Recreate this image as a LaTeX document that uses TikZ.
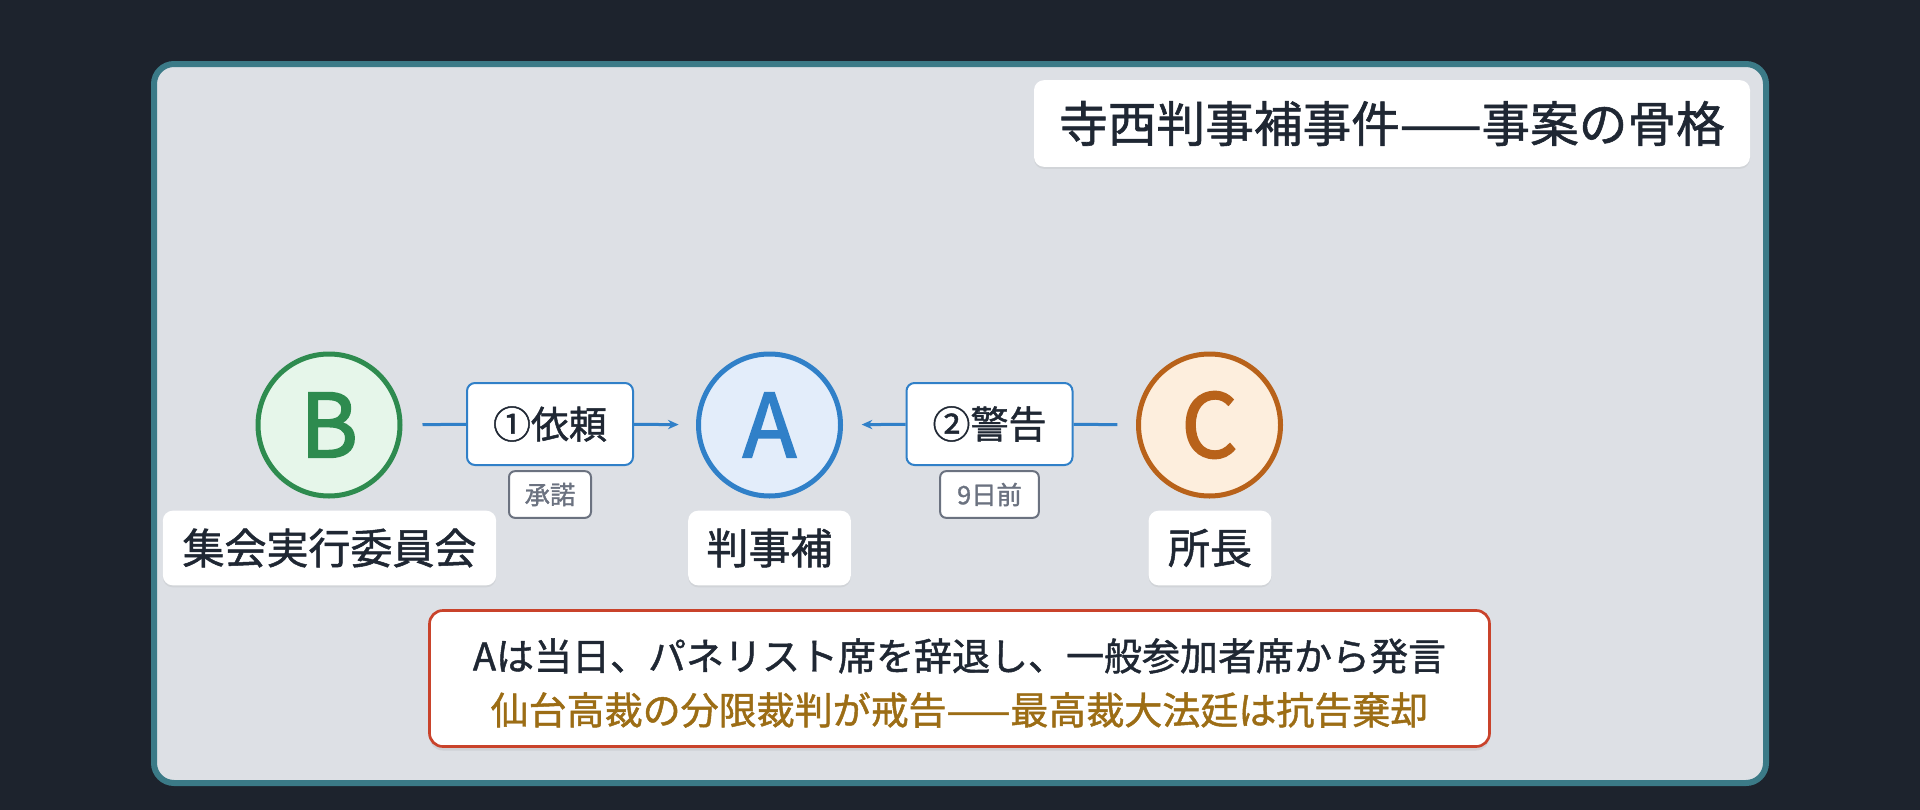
\documentclass[tikz,border=0pt]{standalone}
\usepackage{fontspec}
\usetikzlibrary{arrows.meta,shadows}
\newfontfamily\jp[FakeBold=1.2]{Noto Sans CJK JP}
\newfontfamily\jpl[FakeBold=2.2]{Noto Sans CJK JP}
\definecolor{pagebg}{HTML}{1D232D}
\definecolor{framebd}{HTML}{3B7A87}
\definecolor{framebg}{HTML}{DDE0E5}
\definecolor{ink}{HTML}{1F2733}
\definecolor{gbd}{HTML}{2E8B4F}
\definecolor{gbg}{HTML}{E6F6EA}
\definecolor{bbd}{HTML}{3080C8}
\definecolor{bbg}{HTML}{E3EDFA}
\definecolor{obd}{HTML}{B8621A}
\definecolor{obg}{HTML}{FDEEDD}
\definecolor{greyc}{HTML}{6B7280}
\definecolor{redbd}{HTML}{C9432B}
\definecolor{gold}{HTML}{9C6D15}
\tikzset{
  px/.style={x=0.75pt,y=-0.75pt},
  party/.style={circle,line width=3.75pt,minimum size=106.5pt,inner sep=0pt,font=\jpl\fontsize{66}{66}\selectfont},
  whitebox/.style={rectangle,rounded corners=7.5pt,fill=white,inner sep=0pt,text=ink,
     drop shadow={opacity=0.12,shadow xshift=0pt,shadow yshift=-1.5pt}},
  actbox/.style={rectangle,rounded corners=6pt,fill=white,draw=bbd,line width=1.5pt,inner sep=0pt,
     minimum width=124.5pt,minimum height=61.5pt,text=ink,font=\jp\fontsize{28.5}{30}\selectfont},
  notebox/.style={rectangle,rounded corners=4.5pt,fill=white,draw=greyc,line width=1.5pt,inner sep=0pt,
     minimum height=35pt,text=greyc,font=\jp\fontsize{19}{20}\selectfont},
  conn/.style={draw=bbd,line width=2.25pt},
  tip/.style={-{Stealth[length=8pt,width=7pt]}},
}
\begin{document}
\begin{tikzpicture}[px]
\useasboundingbox (0,0) rectangle (1920,810);
\fill[pagebg] (0,0) rectangle (1920,810);
\draw[fill=framebg,draw=framebd,line width=4.5pt,rounded corners=15pt] (154,64) rectangle (1766,783);
% title
\node[whitebox,minimum width=537pt,minimum height=65pt,font=\jp\fontsize{36.5}{38}\selectfont] (title) at (1392,123.5) {寺西判事補事件——事案の骨格};
% parties
\node[party,draw=gbd,fill=gbg,text=gbd] (B) at (329,425) {B};
\node[party,draw=bbd,fill=bbg,text=bbd] (A) at (769.5,425) {A};
\node[party,draw=obd,fill=obg,text=obd] (C) at (1209.5,425) {C};
% labels
\node[whitebox,minimum width=250pt,minimum height=56pt,font=\jp\fontsize{31.5}{33}\selectfont] (Bl) at (329.5,548) {集会実行委員会};
\node[whitebox,minimum width=122pt,minimum height=56pt,font=\jp\fontsize{31.5}{33}\selectfont] (Al) at (769.5,548) {判事補};
\node[whitebox,minimum width=92pt,minimum height=56pt,font=\jp\fontsize{31.5}{33}\selectfont] (Cl) at (1210,548) {所長};
% actions
\node[actbox] (r1) at (550,424) {①依頼};
\node[actbox] (r2) at (989.5,424) {②警告};
\node[notebox,minimum width=61.5pt] (n1) at (550,494.5) {承諾};
\node[notebox,minimum width=74pt] (n2) at (989.5,494.5) {9日前};
% connectors
\draw[conn,shorten <=15pt] (B) -- (r1);
\draw[conn,tip,shorten >=13pt] (r1) -- (A);
\draw[conn,shorten <=14pt] (C) -- (r2);
\draw[conn,tip,shorten >=14pt] (r2) -- (A);
% bottom
\node[rectangle,rounded corners=10pt,fill=white,draw=redbd,line width=2pt,minimum width=795pt,minimum height=102pt,
  drop shadow={opacity=0.15,shadow xshift=0pt,shadow yshift=-3pt}] (sum) at (959.5,678.5) {};
\node[text=ink,font=\jp\fontsize{28.5}{30}\selectfont,inner sep=0pt] (s1) at (959.5,656) {Aは当日、パネリスト席を辞退し、一般参加者席から発言};
\node[text=gold,font=\jp\fontsize{28.5}{30}\selectfont,inner sep=0pt] (s2) at (959.5,710) {仙台高裁の分限裁判が戒告——最高裁大法廷は抗告棄却};
\end{tikzpicture}
\end{document}
